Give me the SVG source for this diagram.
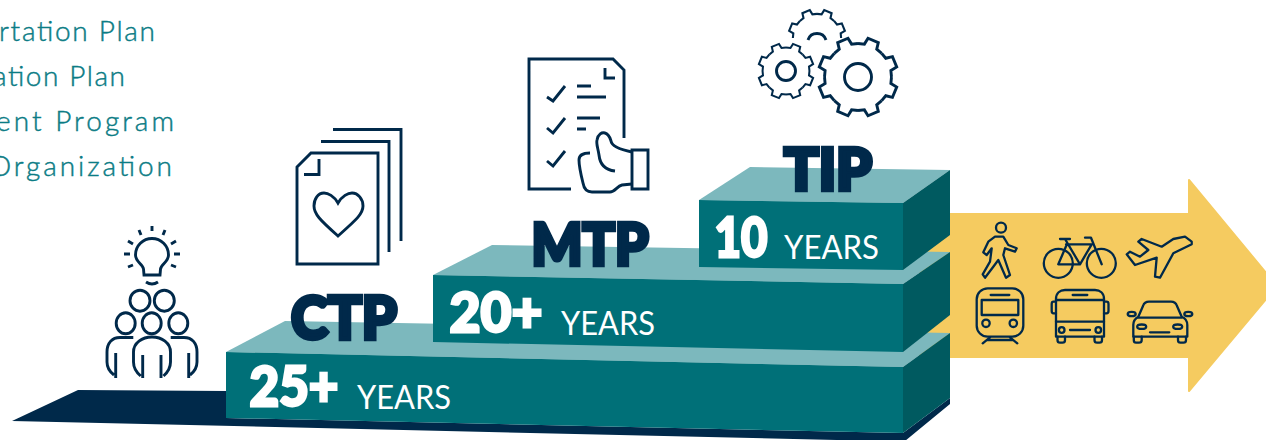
<svg xmlns="http://www.w3.org/2000/svg" xmlns:xlink="http://www.w3.org/1999/xlink" width="1266" height="440" viewBox="0 0 1266 440">
<style>
.top{fill:#7cb8bd}.front{fill:#007078}.side{fill:#005a60}.navy{fill:#00294a}
.ic{fill:none;stroke:#00294a;stroke-width:2.9;stroke-linejoin:miter}
.tr{fill:none;stroke:#00294a;stroke-width:2.3;stroke-linejoin:round;stroke-linecap:round}
.g{vector-effect:non-scaling-stroke;fill:none;stroke:#00294a;stroke-width:2.9;stroke-linejoin:miter}
.def{font-family:Lato,"Liberation Sans",sans-serif;font-weight:300;font-size:28px;fill:#0b7c85;stroke:#0b7c85;stroke-width:.45}
.lab{font-family:Lato,"Liberation Sans",sans-serif;font-weight:900;fill:#00294a;stroke:#00294a;stroke-width:4.4;stroke-linejoin:miter}
.num{font-family:Lato,"Liberation Sans",sans-serif;font-weight:900;fill:#fff;stroke:#fff;stroke-width:2.8}
.yrs{font-family:Lato,"Liberation Sans",sans-serif;font-weight:400;font-size:33px;fill:#fff}
</style>
<defs>
<path id="tooth" d="M-12.82 -30.95L-6.68 -32.83L-5.57 -39.6H5.57L6.68 -32.83L12.82 -30.95"/>
<g id="gear" class="g">
<use xlink:href="#tooth" href="#tooth" class="g" transform="rotate(22.5)"/>
<use xlink:href="#tooth" href="#tooth" class="g" transform="rotate(67.5)"/>
<use xlink:href="#tooth" href="#tooth" class="g" transform="rotate(112.5)"/>
<use xlink:href="#tooth" href="#tooth" class="g" transform="rotate(157.5)"/>
<use xlink:href="#tooth" href="#tooth" class="g" transform="rotate(202.5)"/>
<use xlink:href="#tooth" href="#tooth" class="g" transform="rotate(247.5)"/>
<use xlink:href="#tooth" href="#tooth" class="g" transform="rotate(292.5)"/>
<use xlink:href="#tooth" href="#tooth" class="g" transform="rotate(337.5)"/>
</g>
</defs>
<g id="definitions">
<text class="def" x="-1" y="41" textLength="156" lengthAdjust="spacing">rtation Plan</text>
<text class="def" x="-7" y="86" textLength="132" lengthAdjust="spacing">ation Plan</text>
<text class="def" x="-4" y="131" textLength="178" lengthAdjust="spacing">ent Program</text>
<text class="def" x="-11" y="176" textLength="183" lengthAdjust="spacing">Organization</text>
</g>
<g id="arrow"><path d="M920 214H1189V180L1277 286L1189 391V357H920Z" fill="#f5cb60" stroke="#f5cb60" stroke-width="2" stroke-linejoin="round"/></g>
<g id="base"><path class="navy" d="M12 421L78 390L226 391V418L903 433L950 398V404L905 441H880Z"/></g>
<g id="tier-25">
<path class="top" d="M226 352L285 321L950 333L903 367Z"/>
<path class="front" d="M226 352L903 367V433L226 418Z"/>
<path class="side" d="M903 367L950 333V398L903 433Z"/>
</g>
<g id="tier-20">
<path class="top" d="M433 275L492 245L950 252L903 284Z"/>
<path class="front" d="M433 275L903 284V352L433 342Z"/>
<path class="side" d="M903 284L950 252V315L903 352Z"/>
</g>
<g id="tier-10">
<path class="top" d="M699 200L750 167L950 170L903 203Z"/>
<path class="front" d="M699 200L903 203V270L699 267Z"/>
<path class="side" d="M903 203L950 170V235L903 270Z"/>
</g>
<g id="ctp"><text class="lab" x="291" y="339" font-size="58.500" textLength="106" lengthAdjust="spacingAndGlyphs">CTP</text></g>
<g id="mtp"><text class="lab" x="531.500" y="265" font-size="58" textLength="117" lengthAdjust="spacingAndGlyphs">MTP</text></g>
<g id="tip"><text class="lab" x="784" y="190" font-size="58" textLength="88" lengthAdjust="spacingAndGlyphs">TIP</text></g>
<g id="years-25">
<text class="num" x="249.500" y="405.500" font-size="55" textLength="89" lengthAdjust="spacingAndGlyphs">25+</text>
<text class="yrs" x="357" y="409" textLength="94" lengthAdjust="spacingAndGlyphs">YEARS</text>
</g>
<g id="years-20">
<text class="num" x="449.500" y="331.500" font-size="55" textLength="93" lengthAdjust="spacingAndGlyphs">20+</text>
<text class="yrs" x="561" y="335" textLength="94" lengthAdjust="spacingAndGlyphs">YEARS</text>
</g>
<g id="years-10">
<text class="num" x="714.500" y="256.500" font-size="55" textLength="53" lengthAdjust="spacingAndGlyphs">10</text>
<text class="yrs" x="784" y="259" textLength="95" lengthAdjust="spacingAndGlyphs">YEARS</text>
</g>
<g id="icon-people" class="ic">
<path d="M144 275L143.500 269C143 264 135.500 262 135.500 255A16.500 16.500 0 0 1 168.500 255C168.500 262 161 264 160.500 269L160 275Z"/>
<path d="M146 282Q152 286 158 282"/>
<path d="M152 226V231M139 230L141 235M165 230L163 235M128 241L133 244M176 241L171 244M124 254H130M180 254H174M128 267L133 265M176 267L171 265"/>
<ellipse cx="140" cy="300.700" rx="10" ry="10.500"/><ellipse cx="164.300" cy="300.700" rx="10" ry="10.500"/>
<ellipse cx="125.700" cy="323.300" rx="9.500" ry="10.500"/><ellipse cx="151.700" cy="323.300" rx="9.500" ry="10.500"/><ellipse cx="178.300" cy="323.300" rx="9.500" ry="10.500"/>
<path d="M142.700 378V355M161 378V355M140.700 376C136 372 133.500 368 133.500 362V352C133.500 343 142 337 152 337C162 337 170.500 343 170.500 352V362C170.500 368 168 372 163.500 376"/>
<path d="M133.300 337.500H120C112 337.500 107 343 107 352V362C107 368 110 372 114 375M115.700 378V353"/>
<path d="M170.700 337.500H184C192 337.500 197 343 197 352V362C197 368 194 372 190 375M188.700 378V353"/>
</g>
<g id="icon-heart-docs" class="ic">
<path d="M297 167L311 153H378V264H297Z"/>
<path d="M319 159V174.500H304"/>
<path d="M321 141.500H389V252"/>
<path d="M333 129.500H401V241"/>
<path d="M338 203C334 196 328 193 324 193C318 193 314 199 314 206C314 214 320 220 338 236C356 220 363 214 363 206C363 199 358 193 352 193C348 193 342 196 338 203Z"/>
</g>
<g id="icon-checklist" class="ic">
<path d="M571 189H529V59H613L624 70V138"/>
<path d="M605 68V78H615"/>
<path d="M547 97L553 101L565 86M547 128L553 133L565 118M547 161L553 166L565 151"/>
<path d="M577 86H591M577 97H606M577 118H600M577 129H586"/>
<path d="M632 150H648V189H632Z"/>
<path d="M615 171C606 170 600 165 599 155C598 148 596 144 597 140C598 134 602 132 605 133C609 134 610 138 611 141C612 147 622 150 632 152"/>
<path d="M590 153C583 153 579 155 579 160C579 167 581 175 583 183C584 189 587 192 592 192H610C615 192 617 186 622 185L632 184"/>
</g>
<g id="icon-gears">
<use xlink:href="#gear" href="#gear" transform="translate(858 77)"/>
<circle class="ic" cx="858" cy="77" r="13.500"/>
<use xlink:href="#gear" href="#gear" transform="translate(786 71) scale(.7)"/>
<circle class="ic" cx="786" cy="71" r="9.500"/>
<g class="g" transform="translate(817 38) scale(.72)">
<use xlink:href="#tooth" href="#tooth" class="g" transform="rotate(-67.5)"/>
<use xlink:href="#tooth" href="#tooth" class="g" transform="rotate(-22.5)"/>
<use xlink:href="#tooth" href="#tooth" class="g" transform="rotate(22.5)"/>
<use xlink:href="#tooth" href="#tooth" class="g" transform="rotate(67.500)"/>
</g>
<path class="ic" d="M808 40A9.500 9.500 0 0 1 826 40"/>
</g>
<g id="icon-walk" class="tr">
<circle cx="1001" cy="227.700" r="5"/>
<path d="M995 236.700H1003.300L1008.300 245L1016.700 248.300L1015 251.700L1005 248.300L1003.300 255L1010 275L1006 277.700L998.300 260L993.300 266.700L985 277.700L982.700 274.300L990 261.700L991.700 248.300L986.700 255L983.300 252.300L988.300 241.700Z"/>
</g>
<g id="icon-bike" class="tr">
<circle cx="1058.300" cy="263.300" r="14.500"/><circle cx="1101.300" cy="263.300" r="14.500"/>
<path d="M1058.300 264.300H1080L1091.700 244.300H1066M1058.300 264.300L1067 244M1065 239L1080 264.300M1060 239H1070M1085 237.700H1091L1101.700 264.300"/>
</g>
<g id="icon-plane" class="tr">
<path d="M1191.700 241.700L1185 236.700L1173.300 239L1161.700 246.700L1141.700 239L1138.300 241.700L1148.300 250L1140 256.700L1130 251.700L1126.700 254.300L1135 265L1156.700 257.700L1155 276.700L1160 277.700L1173.300 253.300L1191.700 244.300Z"/>
</g>
<g id="icon-train" class="tr">
<rect x="976.700" y="288.300" width="46.600" height="48.400" rx="11"/>
<rect x="981.700" y="300" width="36.600" height="15"/>
<path d="M990.700 295H1009.300M990 337.300L982.700 343.300M1010 337.300L1017.300 343.300M987.300 340H1012.700"/>
<circle cx="986" cy="323.300" r="3.700"/><circle cx="1013.300" cy="323.300" r="3.700"/>
</g>
<g id="icon-bus" class="tr">
<path d="M1056 336.700V299C1056 293 1060 290 1065 290H1095C1100 290 1104 293 1104 299V336.700Z"/>
<path d="M1056 300H1104M1056 321.700H1104M1072.700 295H1087.300M1070 330H1090"/>
<path d="M1056 301.700H1053.500Q1051.700 301.700 1051.700 304V311Q1051.700 313.300 1053.500 313.300H1056M1104 301.700H1106.500Q1108.500 301.700 1108.500 304V311Q1108.500 313.300 1106.500 313.300H1104"/>
<circle cx="1061.700" cy="330" r="2.800"/><circle cx="1098.300" cy="330" r="2.800"/>
<path d="M1057.500 336.700V340Q1057.500 342.700 1060 342.700H1062.500Q1065 342.700 1065 340V336.700M1094.500 336.700V340Q1094.500 342.700 1097 342.700H1099.500Q1102 342.700 1102 340V336.700"/>
</g>
<g id="icon-car" class="tr">
<path d="M1133.300 336.700V325C1133.300 320 1136 318 1138.300 316.700L1143 306C1144 303 1146 301.700 1149 301.700H1171C1174 301.700 1176 303 1177 306L1181.700 316.700C1185 318 1187.300 320 1187.300 325V336.700Z"/>
<path d="M1138.300 317.700H1181.700M1150 332.300H1169.300"/>
<ellipse cx="1131.700" cy="314" rx="4" ry="2.200"/><ellipse cx="1188.300" cy="314" rx="4" ry="2.200"/>
<ellipse cx="1141.700" cy="326.700" rx="4.500" ry="2.200"/><ellipse cx="1177.700" cy="326.700" rx="4.500" ry="2.200"/>
<path d="M1133.800 336.700V340Q1133.800 342.700 1136 342.700H1139Q1141.700 342.700 1141.700 340V336.700M1178 336.700V340Q1178 342.700 1180.500 342.700H1183.500Q1186 342.700 1186 340V336.700"/>
</g>
</svg>
